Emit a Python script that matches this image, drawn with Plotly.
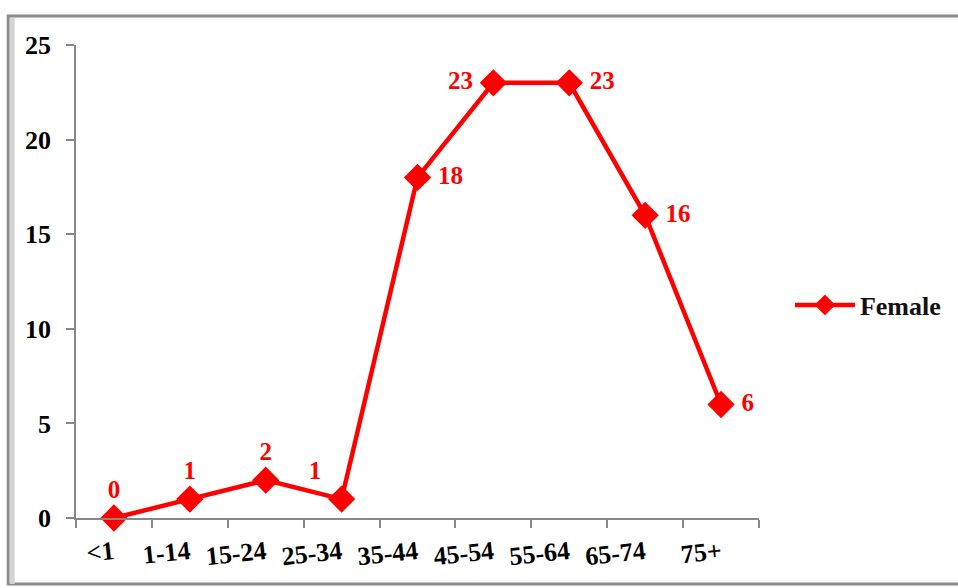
import plotly.graph_objects as go

categories = ["<1", "1-14", "15-24", "25-34", "35-44", "45-54", "55-64", "65-74", "75+"]
female = [0, 1, 2, 1, 18, 23, 23, 16, 6]
label_pos = ["top center", "top center", "top center", "top left", "middle right",
             "middle left", "middle right", "middle right", "middle right"]
y_ticks = [0, 5, 10, 15, 20, 25]

RED = "#ff0000"
FONT = "Liberation Serif"

fig = go.Figure()
fig.add_trace(go.Scatter(
    x=categories, y=female, name="Female",
    mode="lines+markers+text",
    line=dict(color=RED, width=4.5),
    marker=dict(symbol="diamond", size=21, color=RED),
    text=[f" {v} " for v in female],
    textposition=label_pos,
    textfont=dict(family=FONT, size=25, color=RED, weight="bold"),
    cliponaxis=False,
))

W, H = 958, 588
L, R, T, B = 76, 197, 45, 70
pw, ph = W - L - R, H - T - B

def px(x):
    return (x - L) / pw

def py(y):
    return (H - B - y) / ph

fig.add_shape(type="rect", xref="paper", yref="paper",
              x0=px(8), x1=px(975), y0=py(584), y1=py(16),
              line=dict(color="#8c8c8c", width=3), fillcolor="rgba(0,0,0,0)", layer="below")
fig.add_shape(type="line", xref="paper", yref="paper",
              x0=px(12), x1=px(12), y0=py(584), y1=py(18),
              line=dict(color="#d4d4d4", width=5), layer="below")

fig.update_layout(
    width=W, height=H,
    margin=dict(l=L, r=R, t=T, b=B),
    paper_bgcolor="white", plot_bgcolor="white",
    font=dict(family=FONT, color="black"),
    showlegend=True,
    legend=dict(x=px(792), y=py(305), xanchor="left", yanchor="middle",
                font=dict(family=FONT, size=26, color="#111111", weight="bold"),
                itemwidth=60,
                bgcolor="rgba(0,0,0,0)"),
    xaxis=dict(
        type="category", range=[-0.5, 8.5], tickson="boundaries",
        showline=True, linecolor="#888888", linewidth=1.5,
        ticks="outside", ticklen=8, tickcolor="#888888", tickwidth=1.5,
        showgrid=False, zeroline=False, tickangle=-6, ticklabelstandoff=8,
        tickfont=dict(family=FONT, size=26, color="black", weight="bold"),
    ),
    yaxis=dict(
        range=[0, 25], tickvals=y_ticks,
        showline=True, linecolor="#888888", linewidth=1.5,
        ticks="outside", ticklen=8, tickcolor="#888888", tickwidth=1.5,
        showgrid=False, zeroline=False, ticklabelstandoff=10,
        tickfont=dict(family=FONT, size=26, color="black", weight="bold"),
    ),
)

fig.write_html("out.html", config={"displayModeBar": False},
               post_script="document.body.style.margin='0';document.body.style.padding='0';document.body.style.overflow='hidden';")
